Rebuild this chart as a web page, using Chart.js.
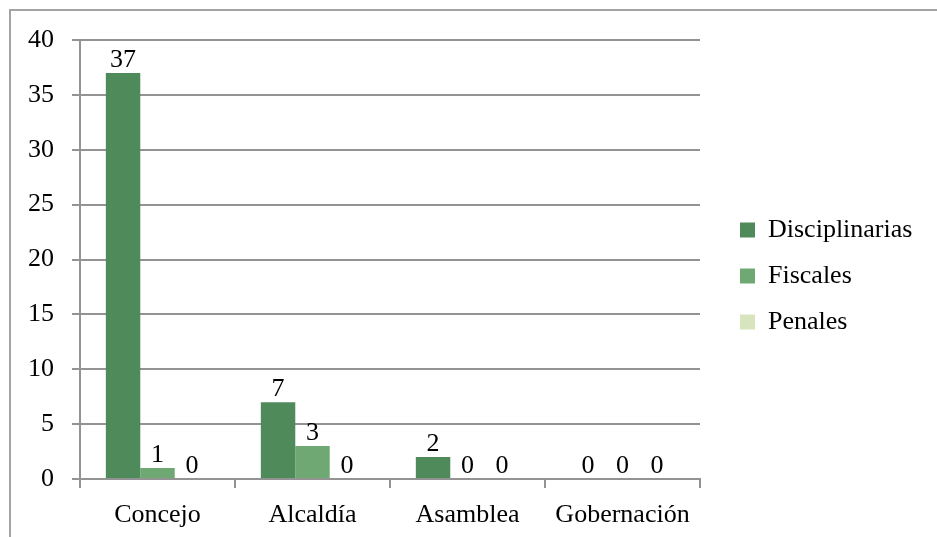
<!DOCTYPE html>
<html>
<head>
<meta charset="utf-8">
<script src="https://cdn.jsdelivr.net/npm/chart.js@4.4.1/dist/chart.umd.min.js"></script>
<style>
  html, body { margin: 0; padding: 0; background: #fff; }
  #wrap { position: relative; width: 937px; height: 537px; overflow: hidden; }
  #frame { position: absolute; left: 9px; top: 9px; width: 1000px; height: 600px;
           border-top: 2px solid #a3a3a3; border-left: 2px solid #a3a3a3; }
  #chart { position: absolute; left: 0; top: 0; }
</style>
</head>
<body>
<div id="wrap">
  <div id="frame"></div>
  <canvas id="chart" width="937" height="537"></canvas>
</div>
<script>
const categories = ['Concejo', 'Alcaldía', 'Asamblea', 'Gobernación'];
const disciplinarias = [37, 7, 2, 0];
const fiscales = [1, 3, 0, 0];
const penales = [0, 0, 0, 0];
const yTicks = [0, 5, 10, 15, 20, 25, 30, 35, 40];

const font = { family: '"Liberation Serif", serif', size: 26 };
const gridColor = '#939393';
const legendPad = 20;

// value labels above every bar, zeros included
const valueLabels = {
    id: 'valueLabels',
    afterDatasetsDraw(chart) {
        const c = chart.ctx;
        c.save();
        c.font = `${font.size}px ${font.family}`;
        c.fillStyle = '#000';
        c.textAlign = 'center';
        c.textBaseline = 'alphabetic';
        chart.data.datasets.forEach((ds, i) => {
            chart.getDatasetMeta(i).data.forEach((bar, j) => {
                c.fillText(String(ds.data[j]), bar.x, bar.y - 6);
            });
        });
        c.restore();
    }
};

// fixed legend column on the right, like the original
const legendPlace = {
    id: 'legendPlace',
    beforeLayout(chart) {
        const lg = chart.legend;
        if (lg && !lg._fixed) {
            const fit = lg.fit;
            lg.fit = function () { fit.call(this); this.width = 237; };
            lg._fixed = true;
        }
    },
    afterLayout(chart) {
        const lg = chart.legend;
        lg.left = chart.chartArea.right + 40 - legendPad;
        lg.top = 15;
    }
};

const chart = new Chart(document.getElementById('chart').getContext('2d'), {
    type: 'bar',
    data: {
        labels: categories,
        datasets: [
            { label: 'Disciplinarias', data: disciplinarias, backgroundColor: '#4f8a5b' },
            { label: 'Fiscales', data: fiscales, backgroundColor: '#6fa872' },
            { label: 'Penales', data: penales, backgroundColor: '#d7e4bd' }
        ]
    },
    options: {
        responsive: false,
        animation: false,
        categoryPercentage: 3 / 4.5,
        barPercentage: 1,
        layout: { padding: { top: 40, left: 0, right: 0, bottom: 0 } },
        plugins: {
            tooltip: { enabled: false },
            legend: {
                position: 'right',
                align: 'center',
                labels: {
                    font: font,
                    color: '#000',
                    boxWidth: 15,
                    boxHeight: 15,
                    padding: legendPad
                }
            }
        },
        scales: {
            x: {
                grid: { display: true, drawOnChartArea: false, offset: true, tickLength: 9,
                        color: gridColor, lineWidth: 2 },
                border: { display: true, color: gridColor, width: 2 },
                ticks: { font: font, color: '#000', padding: 12 },
                afterFit(scale) { scale.height = 58; }
            },
            y: {
                min: 0,
                max: 40,
                afterBuildTicks(scale) { scale.ticks = yTicks.map(v => ({ value: v })); },
                grid: { color: gridColor, lineWidth: 2, tickLength: 8 },
                border: { display: true, color: gridColor, width: 2 },
                ticks: { font: font, color: '#000', padding: 18 },
                afterFit(scale) { scale.width = 80; }
            }
        }
    },
    plugins: [valueLabels, legendPlace]
});
</script>
</body>
</html>
